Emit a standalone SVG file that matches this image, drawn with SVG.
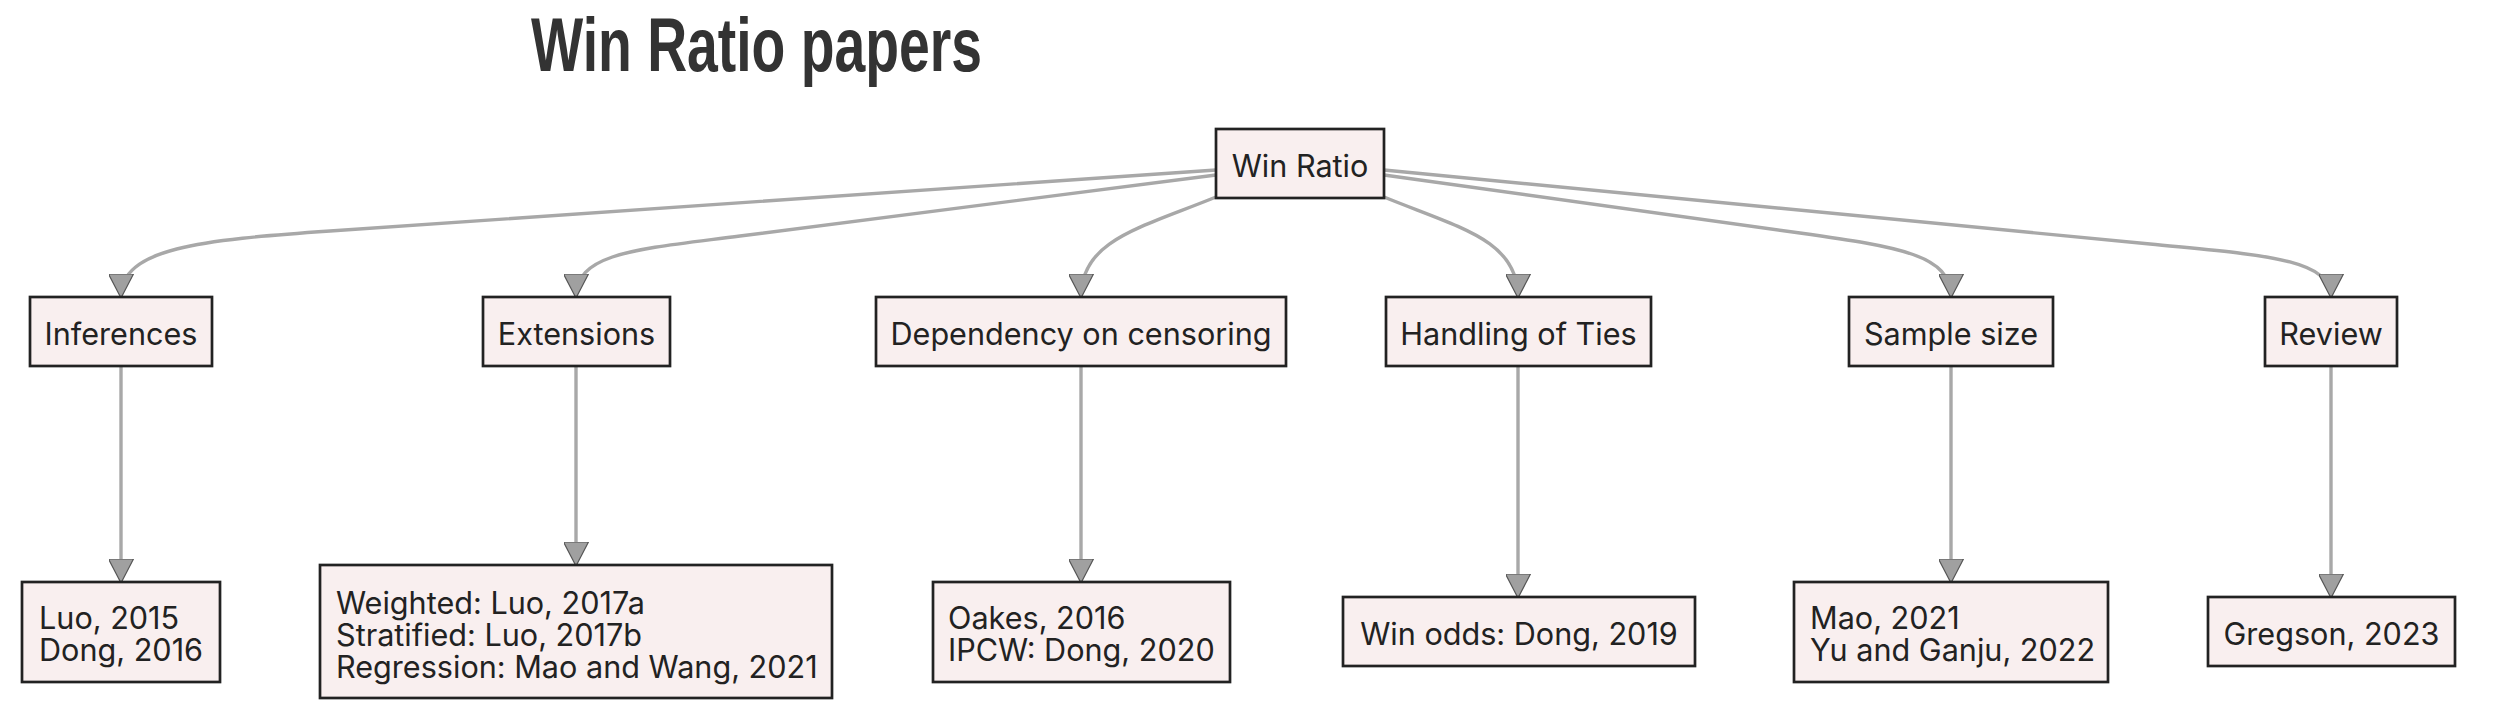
<svg xmlns="http://www.w3.org/2000/svg" width="2502" height="718" viewBox="0 0 2502 718">
<style>
.node rect{fill:#f9efef;stroke:#222;stroke-width:2.7}
.node text{font-family:Inter,"Noto Sans","Liberation Sans",sans-serif;font-size:30.6px;fill:#222}
.c{text-anchor:middle}
.edge{fill:none;stroke:#a8a8a8;stroke-width:3.4}
.title{font-family:"Liberation Sans",Arial,sans-serif;font-weight:bold;font-size:76px;fill:#333}
</style>
<defs>
<marker id="arr" markerUnits="userSpaceOnUse" viewBox="0 0 24 25" refX="23" refY="12.5" markerWidth="24" markerHeight="25" orient="auto">
<path d="M0,0 L24,12.5 L0,25 Z" fill="#a0a0a0" stroke="#555" stroke-width="1.2"/>
</marker>
</defs>
<rect width="2502" height="718" fill="#fff"/>
<text class="title" x="531" y="71" textLength="451" lengthAdjust="spacingAndGlyphs">Win Ratio papers</text>
<g id="connectors">
<path class="edge" marker-end="url(#arr)" d="M1216,170 L330,231 C200,240 121,248 121,297"/>
<path class="edge" marker-end="url(#arr)" d="M1216,175 L740,236 C640,249 576,252 576,297"/>
<path class="edge" marker-end="url(#arr)" d="M1216,197 C1140,228 1081,240 1081,297"/>
<path class="edge" marker-end="url(#arr)" d="M1384,197 C1460,228 1518,240 1518,297"/>
<path class="edge" marker-end="url(#arr)" d="M1384,175 L1800,233 C1900,247 1951,255 1951,297"/>
<path class="edge" marker-end="url(#arr)" d="M1384,170 L2150,244 C2260,255 2331,258 2331,297"/>
<path class="edge" marker-end="url(#arr)" d="M121,366 L121,582"/>
<path class="edge" marker-end="url(#arr)" d="M576,366 L576,565"/>
<path class="edge" marker-end="url(#arr)" d="M1081,366 L1081,582"/>
<path class="edge" marker-end="url(#arr)" d="M1518,366 L1518,597"/>
<path class="edge" marker-end="url(#arr)" d="M1951,366 L1951,582"/>
<path class="edge" marker-end="url(#arr)" d="M2331,366 L2331,597"/>
</g>
<g id="win-ratio" class="node"><rect x="1216" y="129" width="168" height="69"/><text class="c" x="1300" y="177">Win Ratio</text></g>
<g id="inferences" class="node"><rect x="30" y="297" width="182" height="69"/><text class="c" x="121" y="345">Inferences</text></g>
<g id="extensions" class="node"><rect x="483" y="297" width="187" height="69"/><text class="c" x="576.5" y="345">Extensions</text></g>
<g id="dependency" class="node"><rect x="876" y="297" width="410" height="69"/><text class="c" x="1081" y="345">Dependency on censoring</text></g>
<g id="ties" class="node"><rect x="1386" y="297" width="265" height="69"/><text class="c" x="1518.5" y="345">Handling of Ties</text></g>
<g id="sample-size" class="node"><rect x="1849" y="297" width="204" height="69"/><text class="c" x="1951" y="345">Sample size</text></g>
<g id="review" class="node"><rect x="2265" y="297" width="132" height="69"/><text class="c" x="2331" y="345">Review</text></g>
<g id="inferences-papers" class="node"><rect x="22" y="582" width="198" height="100"/><text x="39" y="629">Luo, 2015</text><text x="39" y="661">Dong, 2016</text></g>
<g id="extensions-papers" class="node"><rect x="320" y="565" width="512" height="133"/><text x="336" y="614">Weighted: Luo, 2017a</text><text x="336" y="646">Stratified: Luo, 2017b</text><text x="336" y="678">Regression: Mao and Wang, 2021</text></g>
<g id="dependency-papers" class="node"><rect x="933" y="582" width="297" height="100"/><text x="948" y="629">Oakes, 2016</text><text x="948" y="661">IPCW: Dong, 2020</text></g>
<g id="ties-papers" class="node"><rect x="1343" y="597" width="352" height="69"/><text class="c" x="1519" y="645">Win odds: Dong, 2019</text></g>
<g id="sample-size-papers" class="node"><rect x="1794" y="582" width="314" height="100"/><text x="1810" y="629">Mao, 2021</text><text x="1810" y="661">Yu and Ganju, 2022</text></g>
<g id="review-papers" class="node"><rect x="2208" y="597" width="247" height="69"/><text class="c" x="2331.5" y="645">Gregson, 2023</text></g>
</svg>
